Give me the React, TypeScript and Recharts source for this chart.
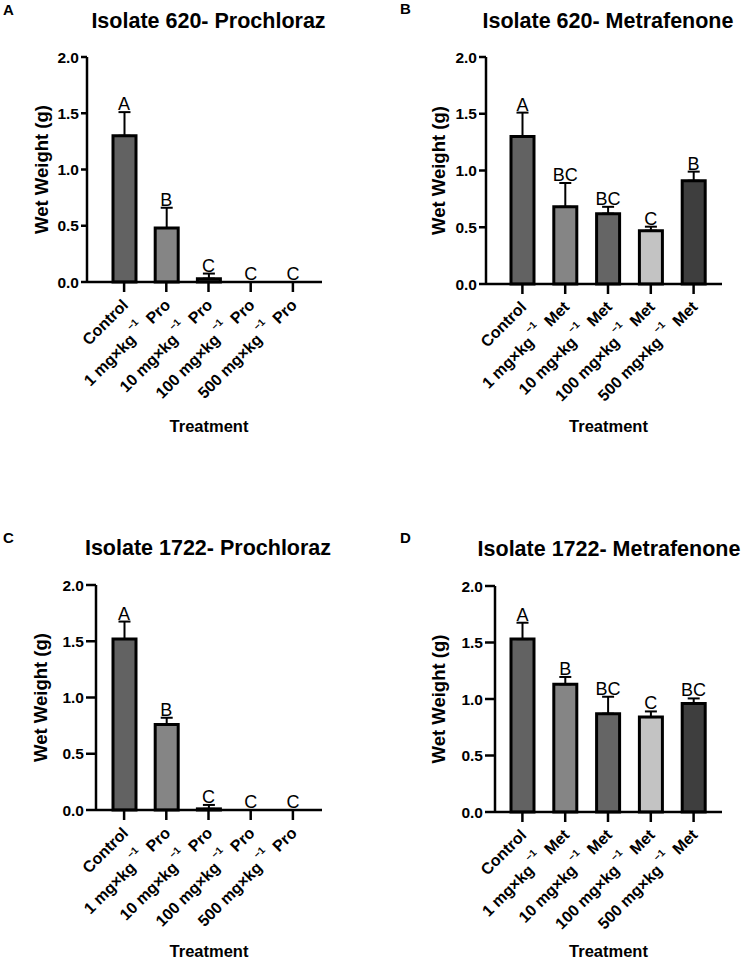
import {
  Bar,
  Cell,
  ComposedChart,
  ErrorBar,
  LabelList,
  Line,
  XAxis,
  YAxis,
} from "recharts";

// ── data ────────────────────────────────────────────────────────────────────

const proCategories = [
  "Control",
  "1 mg×kg⁻¹ Pro",
  "10 mg×kg⁻¹ Pro",
  "100 mg×kg⁻¹ Pro",
  "500 mg×kg⁻¹ Pro",
];
const metCategories = [
  "Control",
  "1 mg×kg⁻¹ Met",
  "10 mg×kg⁻¹ Met",
  "100 mg×kg⁻¹ Met",
  "500 mg×kg⁻¹ Met",
];
const barColors = ["#626262", "#858585", "#656565", "#c3c3c3", "#3e3e3e"];
const yTicks = [0, 0.5, 1, 1.5, 2];

const iso620ProMeans = [1.3, 0.48, 0.03, 0, 0];
const iso620ProSd = [0.21, 0.18, 0.045, 0, 0];
const iso620ProLetters = ["A", "B", "C", "C", "C"];

const iso620MetMeans = [1.3, 0.68, 0.62, 0.47, 0.91];
const iso620MetSd = [0.21, 0.21, 0.06, 0.035, 0.08];
const iso620MetLetters = ["A", "BC", "BC", "C", "B"];

const iso1722ProMeans = [1.52, 0.76, 0.01, 0, 0];
const iso1722ProSd = [0.155, 0.06, 0.035, 0, 0];
const iso1722ProLetters = ["A", "B", "C", "C", "C"];

const iso1722MetMeans = [1.53, 1.13, 0.87, 0.84, 0.96];
const iso1722MetSd = [0.145, 0.065, 0.15, 0.05, 0.045];
const iso1722MetLetters = ["A", "B", "BC", "C", "BC"];

// ── layout ──────────────────────────────────────────────────────────────────

const FONT = '"Liberation Sans", Arial, Helvetica, sans-serif';
const CHART_W = 372;
const CHART_H = 481;
const YAXIS_W = 62;
const XAXIS_H = 140;

interface PanelLayout {
  left: number;
  top: number;
  plotLeft: number;
  plotTop: number;
  plotBottom: number;
  plotRight: number;
  padLeft: number;
  padRight: number;
  yTickSize: number;
  labelX: number;
}

interface Row {
  name: string;
  value: number;
  err: [number, number];
  top: number;
  letter: string;
}

function buildRows(cats: string[], means: number[], sd: number[], letters: string[]): Row[] {
  return cats.map((name, i) => ({
    name,
    value: means[i],
    err: [0, sd[i]],
    top: means[i] + sd[i],
    letter: letters[i],
  }));
}

// ── DoseTick ────────────────────────────────────────────────────────────────

interface TickProps {
  x?: number;
  y?: number;
  payload?: { value: string };
}

// rotated category label, "⁻¹" is split out and drawn as a raised small run
function DoseTick({ x = 0, y = 0, payload }: TickProps) {
  const label = String(payload?.value ?? "");
  const [head, tail] = label.split("⁻¹");
  return (
    <g transform={`translate(${x + 5},${y + 12})`}>
      <text
        transform="rotate(-45)"
        textAnchor="end"
        fontSize={16}
        fontWeight={700}
        fill="#000"
        fontFamily={FONT}
      >
        {tail === undefined ? (
          head
        ) : (
          <>
            <tspan>{head}</tspan>
            <tspan dx={3} dy={-11} fontSize={10}>
              −1
            </tspan>
            <tspan dx={8} dy={11}>
              {tail.trim()}
            </tspan>
          </>
        )}
      </text>
    </g>
  );
}

// ── Panel ───────────────────────────────────────────────────────────────────

function Panel({ rows, layout }: { rows: Row[]; layout: PanelLayout }) {
  const margin = {
    top: layout.plotTop,
    right: CHART_W - layout.plotRight,
    bottom: CHART_H - layout.plotBottom - XAXIS_H,
    left: layout.plotLeft - YAXIS_W,
  };
  const axisStroke = { stroke: "#000", strokeWidth: 2.5 };
  return (
    <div style={{ position: "absolute", left: layout.left, top: layout.top }}>
      <ComposedChart width={CHART_W} height={CHART_H} data={rows} margin={margin}>
        <XAxis
          dataKey="name"
          type="category"
          interval={0}
          height={XAXIS_H}
          padding={{ left: layout.padLeft, right: layout.padRight }}
          axisLine={axisStroke}
          tickLine={axisStroke}
          tickSize={10}
          tick={<DoseTick />}
        />
        <YAxis
          type="number"
          domain={[0, 2]}
          ticks={yTicks}
          width={YAXIS_W}
          axisLine={axisStroke}
          tickLine={axisStroke}
          tickSize={layout.yTickSize}
          tickMargin={2}
          tickFormatter={(v: number) => v.toFixed(1)}
          tick={{ fill: "#000", fontSize: 15.5, fontWeight: 700 }}
          label={{
            value: "Wet Weight (g)",
            angle: -90,
            position: "insideLeft",
            offset: layout.labelX - margin.left,
            style: { textAnchor: "middle", fontSize: 18.5, fontWeight: 700, fill: "#000" },
          }}
        />
        <Bar dataKey="value" barSize={23} stroke="#000" strokeWidth={3} isAnimationActive={false}>
          {rows.map((r, i) => (
            <Cell key={r.name} fill={barColors[i]} />
          ))}
          <ErrorBar dataKey="err" direction="y" width={6} stroke="#000" strokeWidth={2} />
        </Bar>
        <Line
          dataKey="top"
          stroke="none"
          dot={false}
          activeDot={false}
          isAnimationActive={false}
        >
          <LabelList dataKey="letter" position="top" offset={2} fill="#000" fontSize={18} />
        </Line>
      </ComposedChart>
    </div>
  );
}

const layoutA: PanelLayout = {
  left: 0, top: 0, plotLeft: 87, plotTop: 57, plotBottom: 282, plotRight: 322,
  padLeft: 16, padRight: 8, yTickSize: 6, labelX: 41,
};
const layoutB: PanelLayout = {
  left: 372, top: 0, plotLeft: 114, plotTop: 57, plotBottom: 284, plotRight: 350,
  padLeft: 15, padRight: 7, yTickSize: 7, labelX: 66,
};
const layoutC: PanelLayout = {
  left: 0, top: 481, plotLeft: 96, plotTop: 104, plotBottom: 329, plotRight: 322,
  padLeft: 7, padRight: 8, yTickSize: 10, labelX: 40,
};
const layoutD: PanelLayout = {
  left: 372, top: 481, plotLeft: 123, plotTop: 105, plotBottom: 331, plotRight: 350,
  padLeft: 6, padRight: 7, yTickSize: 10, labelX: 66,
};

// ── App ─────────────────────────────────────────────────────────────────────

export default function App() {
  const titleStyle = { fontSize: 21.5, fontWeight: 700 } as const;
  const axisTitle = { fontSize: 16.5, fontWeight: 700 } as const;
  const panelTag = { fontSize: 15, fontWeight: 700 } as const;
  return (
    <div
      style={{
        position: "absolute",
        left: 0,
        top: 0,
        width: 744,
        height: 962,
        background: "#fff",
        fontFamily: FONT,
        overflow: "hidden",
      }}
    >
      <Panel rows={buildRows(proCategories, iso620ProMeans, iso620ProSd, iso620ProLetters)} layout={layoutA} />
      <Panel rows={buildRows(metCategories, iso620MetMeans, iso620MetSd, iso620MetLetters)} layout={layoutB} />
      <Panel rows={buildRows(proCategories, iso1722ProMeans, iso1722ProSd, iso1722ProLetters)} layout={layoutC} />
      <Panel rows={buildRows(metCategories, iso1722MetMeans, iso1722MetSd, iso1722MetLetters)} layout={layoutD} />
      <svg
        width={744}
        height={962}
        style={{ position: "absolute", left: 0, top: 0, pointerEvents: "none" }}
        fontFamily={FONT}
        fill="#000"
      >
        <text x={3} y={15} {...panelTag}>A</text>
        <text x={400} y={14} {...panelTag}>B</text>
        <text x={3} y={543} {...panelTag}>C</text>
        <text x={400} y={543} {...panelTag}>D</text>

        <text x={208.5} y={28} textAnchor="middle" {...titleStyle}>Isolate 620- Prochloraz</text>
        <text x={608} y={28} textAnchor="middle" {...titleStyle}>Isolate 620- Metrafenone</text>
        <text x={208} y={555} textAnchor="middle" {...titleStyle}>Isolate 1722- Prochloraz</text>
        <text x={609} y={556} textAnchor="middle" {...titleStyle}>Isolate 1722- Metrafenone</text>

        <text x={209} y={432} textAnchor="middle" {...axisTitle}>Treatment</text>
        <text x={608.5} y={432} textAnchor="middle" {...axisTitle}>Treatment</text>
        <text x={209} y={957} textAnchor="middle" {...axisTitle}>Treatment</text>
        <text x={608.5} y={957} textAnchor="middle" {...axisTitle}>Treatment</text>
      </svg>
    </div>
  );
}
